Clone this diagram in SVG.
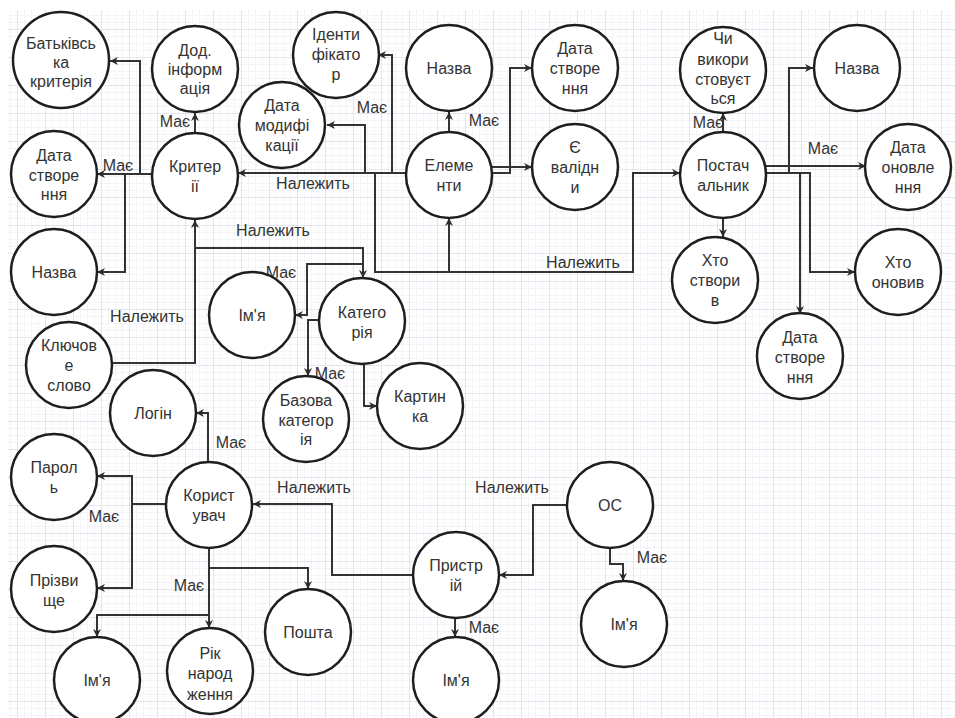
<svg xmlns="http://www.w3.org/2000/svg" width="955" height="718" viewBox="0 0 955 718">
<defs>
<pattern id="grid" width="28" height="28" patternUnits="userSpaceOnUse" x="17" y="1">
<path d="M7.5 0V28M14.5 0V28M21.5 0V28M0 7.5H28M0 14.5H28M0 21.5H28" stroke="#f5f5f9" stroke-width="1" fill="none"/>
<path d="M0.5 0V28M0 0.5H28" stroke="#e4e4ee" stroke-width="1" fill="none"/>
</pattern>
<marker id="arr" viewBox="0 0 10 10" refX="10" refY="5" markerWidth="8" markerHeight="8" orient="auto" markerUnits="userSpaceOnUse">
<path d="M0,0 L10,5 L0,10 L3,5 z" fill="#2a2a2a"/>
</marker>
<style>
.n circle{fill:#fff;stroke:#1e1e1e;stroke-width:2.5}
.n text,.lbl{font-family:"Liberation Sans",Arial,sans-serif;font-size:16px;fill:#333;text-anchor:middle}
.c path{fill:none;stroke:#333;stroke-width:2}
.c path.a{marker-end:url(#arr)}
</style>
</defs>
<rect width="955" height="718" fill="#fff"/>
<rect x="8" y="10" width="947" height="708" fill="url(#grid)"/>

<g id="connectors" class="c">
<path class="a" d="M195,132V113"/>
<path class="a" d="M152,174H97"/>
<path class="a" d="M140,174V61H110"/>
<path class="a" d="M125,174V272H97"/>
<path class="a" d="M406,173H238"/>
<path class="a" d="M392,173V55H378"/>
<path class="a" d="M365,173V125H327"/>
<path class="a" d="M375,173V272H633V173H680"/>
<path class="a" d="M449,272V218"/>
<path class="a" d="M449,132V112"/>
<path class="a" d="M492,173H510V68H532"/>
<path class="a" d="M492,167H532"/>
<path class="a" d="M723,132V113"/>
<path class="a" d="M766,173H789V68H813"/>
<path class="a" d="M766,166H866"/>
<path class="a" d="M766,173H800V314"/>
<path class="a" d="M766,173H810V272H855"/>
<path class="a" d="M723,217V237"/>
<path class="a" d="M112,363H195V220"/>
<path class="a" d="M195,248H363V278"/>
<path class="a" d="M363,278V264H307V315H295"/>
<path class="a" d="M320,320H308V376"/>
<path class="a" d="M364,364V406H377"/>
<path class="a" d="M208,462V413H196"/>
<path d="M167,504H132"/>
<path class="a" d="M132,504V476H97"/>
<path class="a" d="M132,504V588H97"/>
<path class="a" d="M209,547V628"/>
<path class="a" d="M209,568H308V589"/>
<path class="a" d="M209,615H97V637"/>
<path class="a" d="M413,575H332V504H253"/>
<path class="a" d="M567,505H533V575H499"/>
<path class="a" d="M610,547V564H623V581"/>
<path class="a" d="M455,617V637"/>
</g>

<g id="edge-labels">
<text class="lbl" x="175" y="127">Має</text>
<text class="lbl" x="118" y="171">Має</text>
<text class="lbl" x="313" y="189">Належить</text>
<text class="lbl" x="273" y="236">Належить</text>
<text class="lbl" x="147" y="322">Належить</text>
<text class="lbl" x="372" y="113">Має</text>
<text class="lbl" x="484" y="126">Має</text>
<text class="lbl" x="708" y="128">Має</text>
<text class="lbl" x="823" y="154">Має</text>
<text class="lbl" x="583" y="268">Належить</text>
<text class="lbl" x="281" y="278">Має</text>
<text class="lbl" x="330" y="379">Має</text>
<text class="lbl" x="231" y="448">Має</text>
<text class="lbl" x="104" y="522">Має</text>
<text class="lbl" x="189" y="591">Має</text>
<text class="lbl" x="314" y="493">Належить</text>
<text class="lbl" x="512" y="493">Належить</text>
<text class="lbl" x="652" y="563">Має</text>
<text class="lbl" x="484" y="633">Має</text>
</g>

<g id="batkivska" class="n"><circle cx="61" cy="60" r="48"/><text><tspan x="61" y="49">Батьківсь</tspan><tspan x="61" y="68">ка</tspan><tspan x="61" y="87">критерія</tspan></text></g>
<g id="dod-info" class="n"><circle cx="195" cy="69" r="43"/><text><tspan x="195" y="56">Дод.</tspan><tspan x="195" y="75">інформ</tspan><tspan x="195" y="94">ація</tspan></text></g>
<g id="kryterii" class="n"><circle cx="195" cy="176" r="43"/><text><tspan x="195" y="172">Критер</tspan><tspan x="195" y="192">ії</tspan></text></g>
<g id="data-stv-k" class="n"><circle cx="54" cy="174" r="43"/><text><tspan x="54" y="161">Дата</tspan><tspan x="54" y="181">створе</tspan><tspan x="54" y="200">ння</tspan></text></g>
<g id="nazva-k" class="n"><circle cx="54" cy="272" r="43"/><text x="54" y="278">Назва</text></g>
<g id="kliuchove" class="n"><circle cx="69" cy="365" r="43"/><text><tspan x="69" y="351">Ключов</tspan><tspan x="69" y="371">е</tspan><tspan x="69" y="391">слово</tspan></text></g>
<g id="identyfikator" class="n"><circle cx="336" cy="55" r="43"/><text><tspan x="336" y="40">Іденти</tspan><tspan x="336" y="60">фікато</tspan><tspan x="336" y="80">р</tspan></text></g>
<g id="data-mod" class="n"><circle cx="282" cy="125" r="43"/><text><tspan x="282" y="111">Дата</tspan><tspan x="282" y="131">модифі</tspan><tspan x="282" y="151">кації</tspan></text></g>
<g id="nazva-e" class="n"><circle cx="449" cy="68" r="43"/><text x="449" y="74">Назва</text></g>
<g id="elementy" class="n"><circle cx="449" cy="175" r="43"/><text><tspan x="449" y="171">Елеме</tspan><tspan x="449" y="191">нти</tspan></text></g>
<g id="data-stv-e" class="n"><circle cx="575" cy="68" r="43"/><text><tspan x="575" y="54">Дата</tspan><tspan x="575" y="74">створе</tspan><tspan x="575" y="94">ння</tspan></text></g>
<g id="validny" class="n"><circle cx="575" cy="167" r="43"/><text><tspan x="575" y="153">Є</tspan><tspan x="575" y="173">валідн</tspan><tspan x="575" y="193">и</tspan></text></g>
<g id="postachalnyk" class="n"><circle cx="723" cy="175" r="43"/><text><tspan x="723" y="171">Постач</tspan><tspan x="723" y="191">альник</tspan></text></g>
<g id="chy-vykor" class="n"><circle cx="723" cy="70" r="43"/><text><tspan x="723" y="44">Чи</tspan><tspan x="723" y="65">викори</tspan><tspan x="723" y="85">стовуєт</tspan><tspan x="723" y="104">ься</tspan></text></g>
<g id="nazva-p" class="n"><circle cx="857" cy="68" r="43"/><text x="857" y="74">Назва</text></g>
<g id="data-onov" class="n"><circle cx="908" cy="167" r="43"/><text><tspan x="908" y="153">Дата</tspan><tspan x="908" y="173">оновле</tspan><tspan x="908" y="193">ння</tspan></text></g>
<g id="hto-stvoryv" class="n"><circle cx="715" cy="280" r="43"/><text><tspan x="715" y="266">Хто</tspan><tspan x="715" y="286">створи</tspan><tspan x="715" y="306">в</tspan></text></g>
<g id="hto-onovyv" class="n"><circle cx="898" cy="272" r="43"/><text><tspan x="898" y="268">Хто</tspan><tspan x="898" y="288">оновив</tspan></text></g>
<g id="data-stv-p" class="n"><circle cx="800" cy="356" r="43"/><text><tspan x="800" y="343">Дата</tspan><tspan x="800" y="363">створе</tspan><tspan x="800" y="383">ння</tspan></text></g>
<g id="imia-k" class="n"><circle cx="252" cy="315" r="43"/><text x="252" y="321">Ім'я</text></g>
<g id="katehoriia" class="n"><circle cx="362" cy="321" r="43"/><text><tspan x="362" y="318">Катего</tspan><tspan x="362" y="338">рія</tspan></text></g>
<g id="bazova" class="n"><circle cx="306" cy="419" r="43"/><text><tspan x="306" y="406">Базова</tspan><tspan x="306" y="426">категор</tspan><tspan x="306" y="445">ія</tspan></text></g>
<g id="kartynka" class="n"><circle cx="420" cy="406" r="43"/><text><tspan x="420" y="402">Картин</tspan><tspan x="420" y="422">ка</tspan></text></g>
<g id="login" class="n"><circle cx="153" cy="413" r="43"/><text x="153" y="419">Логін</text></g>
<g id="parol" class="n"><circle cx="54" cy="477" r="43"/><text><tspan x="54" y="473">Парол</tspan><tspan x="54" y="493">ь</tspan></text></g>
<g id="korystuvach" class="n"><circle cx="209" cy="505" r="43"/><text><tspan x="209" y="501">Корист</tspan><tspan x="209" y="521">увач</tspan></text></g>
<g id="prizvyshche" class="n"><circle cx="54" cy="589" r="43"/><text><tspan x="54" y="586">Прізви</tspan><tspan x="54" y="606">ще</tspan></text></g>
<g id="imia-u" class="n"><circle cx="97" cy="680" r="43"/><text x="97" y="686">Ім'я</text></g>
<g id="rik" class="n"><circle cx="210" cy="671" r="43"/><text><tspan x="210" y="659">Рік</tspan><tspan x="210" y="679">народ</tspan><tspan x="210" y="700">ження</tspan></text></g>
<g id="poshta" class="n"><circle cx="308" cy="632" r="43"/><text x="308" y="638">Пошта</text></g>
<g id="prystrii" class="n"><circle cx="456" cy="575" r="43"/><text><tspan x="456" y="571">Пристр</tspan><tspan x="456" y="591">ій</tspan></text></g>
<g id="imia-d" class="n"><circle cx="456" cy="680" r="43"/><text x="456" y="686">Ім'я</text></g>
<g id="os" class="n"><circle cx="610" cy="505" r="43"/><text x="610" y="511">ОС</text></g>
<g id="imia-os" class="n"><circle cx="624" cy="624" r="43"/><text x="624" y="630">Ім'я</text></g>
</svg>
